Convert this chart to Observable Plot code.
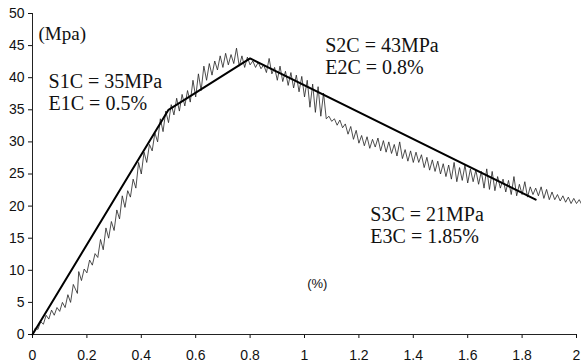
<!DOCTYPE html>
<html>
<head>
<meta charset="utf-8">
<script src="https://cdn.jsdelivr.net/npm/d3@7"></script>
<script src="https://cdn.jsdelivr.net/npm/@observablehq/plot@0.6"></script>
<style>
  html, body { margin: 0; padding: 0; background: #fff; }
</style>
</head>
<body>
<div id="chart"></div>
<script>
// Tick labels
const xTicks = [0, 0.2, 0.4, 0.6, 0.8, 1, 1.2, 1.4, 1.6, 1.8, 2];
const yTicks = [0, 5, 10, 15, 20, 25, 30, 35, 40, 45, 50];

// Trilinear model (strain %, stress MPa)
const modelStrain = [0, 0.5, 0.8, 1.85];
const modelStress = [0, 35, 43, 21];

const testCurve = [
  [0.00,0.0],[0.01,1.0],[0.02,0.8],[0.03,2.0],[0.04,1.6],[0.05,3.0],[0.06,2.4],[0.07,3.8],[0.08,3.0],[0.09,4.2],
  [0.10,3.6],[0.11,5.0],[0.12,4.2],[0.13,6.2],[0.14,5.0],[0.15,7.8],[0.165,6.4],[0.17,9.8],[0.18,8.4],[0.19,10.2],
  [0.20,9.6],[0.21,11.6],[0.22,10.8],[0.23,12.6],[0.24,12.0],[0.25,14.8],[0.26,13.2],[0.27,16.6],[0.28,15.0],[0.29,17.6],
  [0.30,16.2],[0.31,19.4],[0.32,18.0],[0.33,21.6],[0.34,19.8],[0.35,22.4],[0.36,21.4],[0.37,24.2],[0.38,22.8],[0.39,26.8],
  [0.40,25.0],[0.41,28.4],[0.42,26.8],[0.43,29.6],[0.44,28.6],[0.45,31.4],[0.46,30.0],[0.47,33.6],[0.48,31.6],[0.49,34.8],
  [0.50,33.0],[0.51,35.8],[0.52,34.2],[0.53,36.8],[0.54,34.8],[0.55,37.4],[0.56,35.6],[0.57,38.0],[0.58,36.2],[0.59,39.6],
  [0.60,37.0],[0.61,40.6],[0.62,38.0],[0.63,41.8],[0.64,39.6],[0.65,42.2],[0.66,40.4],[0.67,42.6],[0.68,41.2],[0.69,43.4],
  [0.70,41.6],[0.71,43.8],[0.72,42.0],[0.73,43.6],[0.74,42.2],[0.75,44.6],[0.76,41.8],[0.77,43.4],[0.78,41.6],[0.79,43.2],
  [0.80,42.0],[0.81,42.6],[0.82,41.6],[0.83,42.4],[0.84,41.4],[0.85,42.0],[0.86,40.8],[0.87,43.0],[0.88,40.6],[0.89,41.6],
  [0.90,39.6],[0.91,41.8],[0.92,39.4],[0.93,41.0],[0.94,38.8],[0.95,40.8],[0.96,38.4],[0.97,40.4],[0.98,37.8],[0.99,40.2],
  [1.00,37.0],[1.01,39.6],[1.02,35.4],[1.03,39.0],[1.04,34.6],[1.05,38.6],[1.06,34.0],[1.07,37.6],[1.08,33.6],[1.09,34.0],
  [1.10,33.2],[1.11,33.6],[1.12,32.6],[1.13,33.4],[1.14,32.2],[1.15,32.8],[1.16,31.2],[1.17,32.4],[1.18,30.4],[1.19,31.8],
  [1.20,29.8],[1.21,31.0],[1.22,29.4],[1.23,30.8],[1.24,29.0],[1.25,30.4],[1.26,29.2],[1.27,30.6],[1.28,28.6],[1.29,30.2],
  [1.30,28.4],[1.31,30.0],[1.32,28.2],[1.33,29.6],[1.34,27.8],[1.35,30.0],[1.36,27.4],[1.37,28.8],[1.38,27.0],[1.39,28.6],
  [1.40,26.8],[1.41,28.4],[1.42,26.8],[1.43,28.0],[1.44,26.0],[1.45,27.6],[1.46,25.6],[1.47,27.2],[1.48,25.4],[1.49,27.0],
  [1.50,25.0],[1.51,26.6],[1.52,24.6],[1.53,26.4],[1.54,24.2],[1.55,26.8],[1.56,23.8],[1.57,26.0],[1.58,24.0],[1.59,26.4],
  [1.60,23.6],[1.61,25.8],[1.62,23.8],[1.63,25.6],[1.64,23.4],[1.65,25.4],[1.66,22.8],[1.67,25.8],[1.68,22.6],[1.69,25.4],
  [1.70,22.4],[1.71,24.6],[1.72,22.8],[1.73,24.2],[1.74,22.2],[1.75,24.0],[1.76,21.8],[1.77,24.6],[1.78,21.6],[1.79,23.4],
  [1.80,21.8],[1.81,23.8],[1.82,21.4],[1.83,23.0],[1.84,21.8],[1.85,22.8],[1.86,21.6],[1.87,23.0],[1.88,21.2],[1.89,22.6],
  [1.90,21.0],[1.91,22.2],[1.92,21.0],[1.93,21.8],[1.94,20.8],[1.95,21.6],[1.96,20.6],[1.97,21.4],[1.98,20.4],[1.99,21.2],
  [2.00,20.4],[2.01,21.0],[2.02,20.2]
];

// Annotations
const annoText = ["S1C = 35MPa\nE1C = 0.5%", "S2C = 43MPa\nE2C = 0.8%", "S3C = 21MPa\nE3C = 1.85%"];
const annoStrain = [0.059, 1.076, 1.242];
const annoStress = [35.0, 40.5, 14.2];
const yUnit = "(Mpa)";
const xUnit = "(%)";

const model = modelStrain.map((x, i) => ({x, y: modelStress[i]}));
const test = testCurve.map(([x, y]) => ({x, y}));
const annos = annoText.map((t, i) => ({t, x: annoStrain[i], y: annoStress[i]}));

const serif = "'Liberation Serif', 'Times New Roman', serif";

const chart = Plot.plot({
  width: 581,
  height: 364,
  marginLeft: 32,
  marginRight: 5,
  marginTop: 13,
  marginBottom: 30,
  style: {fontFamily: "'Liberation Sans', Arial, sans-serif", fontSize: "14px", color: "#111", background: "#fff", overflow: "visible"},
  x: {domain: [0, 2], ticks: xTicks},
  y: {domain: [0, 50], ticks: yTicks},
  marks: [
    Plot.axisX({ticks: xTicks, tickSize: 4, tickPadding: 12, label: null, tickFormat: d => String(d)}),
    Plot.axisY({ticks: yTicks, tickSize: 4, tickPadding: 4, label: null, tickFormat: d => String(d)}),
    Plot.ruleY([0], {stroke: "#222", strokeWidth: 1}),
    Plot.ruleX([0], {stroke: "#222", strokeWidth: 1}),
    Plot.line(test, {x: "x", y: "y", stroke: "#222", strokeWidth: 0.8, clip: false}),
    Plot.line(model, {x: "x", y: "y", stroke: "#000", strokeWidth: 2}),
    Plot.text(annos, {x: "x", y: "y", text: "t", textAnchor: "start", lineAnchor: "bottom", lineHeight: 1.1,
      fontFamily: serif, fontSize: 20, fill: "#111"}),
    Plot.text([yUnit], {x: 0.022, y: 45.8, text: d => d, textAnchor: "start", lineAnchor: "bottom",
      fontFamily: serif, fontSize: 19, fill: "#111"}),
    Plot.text([xUnit], {x: 1.047, y: 7.9, text: d => d, textAnchor: "middle", lineAnchor: "middle", fontSize: 13, fill: "#111"})
  ]
});
document.getElementById("chart").appendChild(chart);
</script>
</body>
</html>
